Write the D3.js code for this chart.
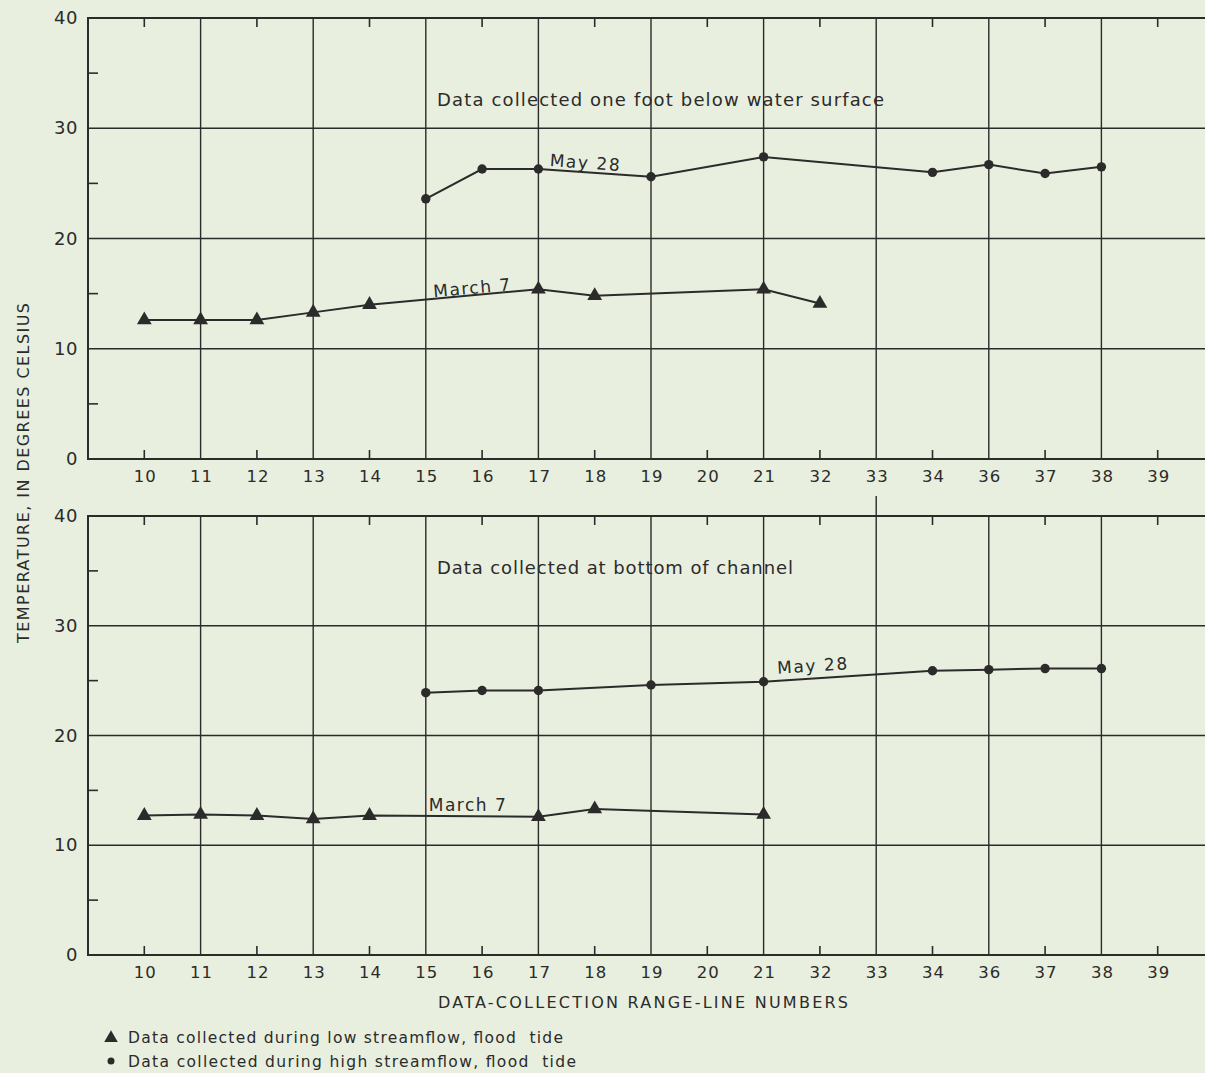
<!DOCTYPE html>
<html>
<head>
<meta charset="utf-8">
<script src="https://cdn.jsdelivr.net/npm/d3@7"></script>
<style>
  html, body { margin: 0; padding: 0; background: #e9efdf; }
  svg { display: block; }
  text { font-family: "DejaVu Sans", "Open Sans", sans-serif; fill: #2b2b2b; }
</style>
</head>
<body>
<svg id="chart" width="1205" height="1073"></svg>
<script>
// ---- Data ----
const categories = ["10","11","12","13","14","15","16","17","18","19","20","21","32","33","34","36","37","38","39"];
const yTicks = [0, 10, 20, 30, 40];

// Top panel: one foot below water surface
const topMay28Cats   = ["15","16","17","19","21","34","36","37","38"];
const topMay28Vals   = [23.6, 26.3, 26.3, 25.6, 27.4, 26.0, 26.7, 25.9, 26.5];
const topMarch7Cats  = ["10","11","12","13","14","17","18","21","32"];
const topMarch7Vals  = [12.6, 12.6, 12.6, 13.3, 14.0, 15.4, 14.8, 15.4, 14.1];

// Bottom panel: bottom of channel
const botMay28Cats   = ["15","16","17","19","21","34","36","37","38"];
const botMay28Vals   = [23.9, 24.1, 24.1, 24.6, 24.9, 25.9, 26.0, 26.1, 26.1];
const botMarch7Cats  = ["10","11","12","13","14","17","18","21"];
const botMarch7Vals  = [12.7, 12.8, 12.7, 12.4, 12.7, 12.6, 13.3, 12.8];

const panelTitles = ["Data collected one foot below water surface", "Data collected at bottom of channel"];
const legendItems = ["Data collected during low streamflow, flood  tide", "Data collected during high streamflow, flood  tide"];
const yTitle = "TEMPERATURE, IN DEGREES  CELSIUS";
const xTitle = "DATA-COLLECTION RANGE-LINE NUMBERS";

// ---- Layout ----
const svg = d3.select("#chart");
const ink = "#2b2b2b";
const left = 88;
const step = 56.3;
const xIdx = d3.scaleLinear().domain([-1, 19]).range([left, left + 20 * step]);
const x = c => xIdx(categories.indexOf(c));
const right = xIdx(19);

const panels = [
  { y0: 459, y1: 18, title: panelTitles[0], titleLen: 447, titleDy: 88, may: [topMay28Cats, topMay28Vals], mar: [topMarch7Cats, topMarch7Vals] },
  { y0: 955, y1: 516, title: panelTitles[1], titleLen: 356, titleDy: 58, may: [botMay28Cats, botMay28Vals], mar: [botMarch7Cats, botMarch7Vals] }
];

panels.forEach((p, pi) => {
  const y = d3.scaleLinear().domain([0, 40]).range([p.y0, p.y1]);
  const g = svg.append("g");

  g.selectAll(".hg").data([10, 20, 30]).enter().append("line")
    .attr("x1", left).attr("x2", right)
    .attr("y1", d => y(d)).attr("y2", d => y(d))
    .attr("stroke", ink).attr("stroke-width", 1.4);

  const vIdx = d3.range(1, 19, 2);
  g.selectAll(".vg").data(vIdx).enter().append("line")
    .attr("x1", d => xIdx(d)).attr("x2", d => xIdx(d))
    .attr("y1", y(0)).attr("y2", y(40))
    .attr("stroke", ink).attr("stroke-width", 1.4);

  const tIdx = d3.range(0, 20, 2);
  g.selectAll(".tt").data(tIdx).enter().append("line")
    .attr("x1", d => xIdx(d)).attr("x2", d => xIdx(d))
    .attr("y1", y(40)).attr("y2", y(40) + 9)
    .attr("stroke", ink).attr("stroke-width", 1.6);
  g.selectAll(".tb").data(tIdx).enter().append("line")
    .attr("x1", d => xIdx(d)).attr("x2", d => xIdx(d))
    .attr("y1", y(0)).attr("y2", y(0) - 9)
    .attr("stroke", ink).attr("stroke-width", 1.6);

  g.selectAll(".ym").data([5, 15, 25, 35]).enter().append("line")
    .attr("x1", left).attr("x2", left + 10)
    .attr("y1", d => y(d)).attr("y2", d => y(d))
    .attr("stroke", ink).attr("stroke-width", 1.6);

  g.append("path")
    .attr("d", `M${right},${y(40)}H${left}V${y(0)}H${right}`)
    .attr("fill", "none").attr("stroke", ink).attr("stroke-width", 2);

  g.selectAll(".yl").data(yTicks).enter().append("text")
    .attr("x", left - 10).attr("y", d => y(d) + 6)
    .attr("text-anchor", "end").attr("font-size", 18).attr("letter-spacing", 0.5)
    .text(d => d);

  g.selectAll(".xl").data(categories).enter().append("text")
    .attr("x", d => x(d) + 1).attr("y", y(0) + 23)
    .attr("text-anchor", "middle").attr("font-size", 16.5).attr("letter-spacing", 1)
    .text(d => d);

  g.append("text")
    .attr("x", 437).attr("y", y(40) + p.titleDy)
    .attr("font-size", 18)
    .attr("textLength", p.titleLen).attr("lengthAdjust", "spacing")
    .text(p.title);

  const line = d3.line().x(d => x(d[0])).y(d => y(d[1]));
  const mayData = p.may[0].map((c, i) => [c, p.may[1][i]]);
  const marData = p.mar[0].map((c, i) => [c, p.mar[1][i]]);
  [mayData, marData].forEach(dd => {
    g.append("path").attr("d", line(dd))
      .attr("fill", "none").attr("stroke", ink).attr("stroke-width", 2);
  });
  g.selectAll(".dot").data(mayData).enter().append("circle")
    .attr("cx", d => x(d[0])).attr("cy", d => y(d[1])).attr("r", 4.7)
    .attr("fill", ink);
  g.selectAll(".tri").data(marData).enter().append("path")
    .attr("d", d3.symbol().type(d3.symbolTriangle).size(95))
    .attr("transform", d => `translate(${x(d[0])},${y(d[1])})`)
    .attr("fill", ink);

  if (pi === 0) {
    svg.append("text").attr("font-size", 17).attr("textLength", 70).attr("lengthAdjust", "spacing")
      .attr("transform", `translate(${x("17") + 11},${y(26.3) - 3}) rotate(4)`).text("May 28");
    svg.append("text").attr("font-size", 17).attr("textLength", 77).attr("lengthAdjust", "spacing")
      .attr("transform", `translate(${x("15") + 8},${y(14.5) - 2}) rotate(-5)`).text("March 7");
  } else {
    svg.append("text").attr("font-size", 17).attr("textLength", 70).attr("lengthAdjust", "spacing")
      .attr("transform", `translate(${x("21") + 14},${y(24.9) - 8}) rotate(-3.5)`).text("May 28");
    svg.append("text").attr("font-size", 17).attr("textLength", 77).attr("lengthAdjust", "spacing")
      .attr("transform", `translate(${x("15") + 3},${y(12.7) - 5})`).text("March 7");
  }
});

svg.append("line")
  .attr("x1", x("33")).attr("x2", x("33"))
  .attr("y1", 496).attr("y2", 516)
  .attr("stroke", ink).attr("stroke-width", 1.4);

svg.append("text")
  .attr("transform", "translate(29,473) rotate(-90)")
  .attr("text-anchor", "middle").attr("font-size", 16)
  .attr("textLength", 340).attr("lengthAdjust", "spacing")
  .text(yTitle);

svg.append("text")
  .attr("x", 438).attr("y", 1008)
  .attr("font-size", 16)
  .attr("textLength", 410).attr("lengthAdjust", "spacing")
  .text(xTitle);

svg.append("path")
  .attr("d", d3.symbol().type(d3.symbolTriangle).size(80))
  .attr("transform", "translate(111,1038)").attr("fill", ink);
svg.append("circle").attr("cx", 111).attr("cy", 1061).attr("r", 3.5).attr("fill", ink);
const legendLens = [435, 448];
svg.selectAll(".lg").data(legendItems).enter().append("text")
  .attr("x", 128).attr("y", (d, i) => 1043 + i * 24)
  .attr("font-size", 15.5)
  .attr("textLength", (d, i) => legendLens[i]).attr("lengthAdjust", "spacing")
  .style("white-space", "pre")
  .text(d => d);
</script>
</body>
</html>
